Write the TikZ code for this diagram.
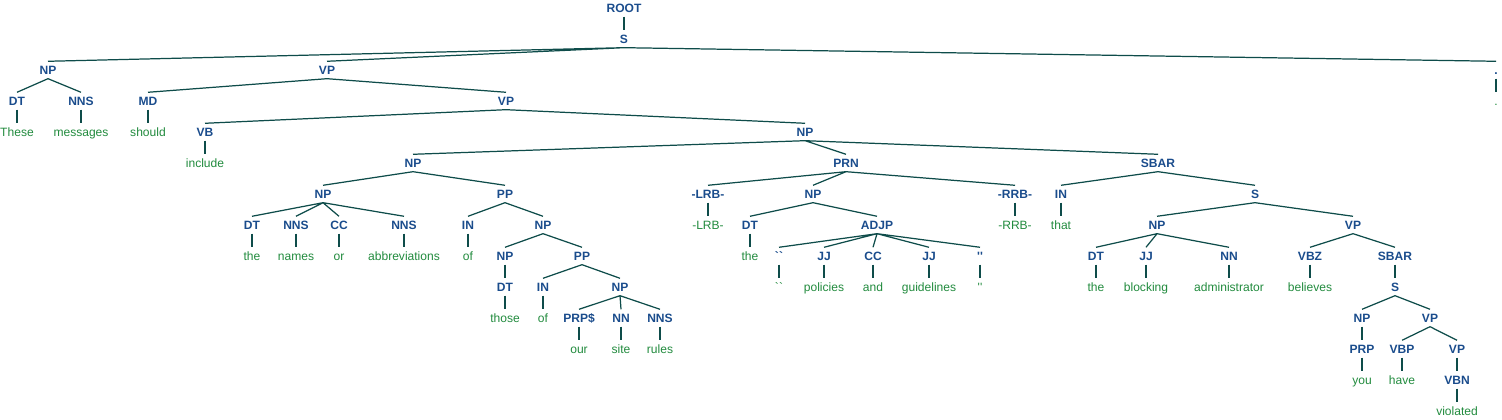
\documentclass[tikz,border=0pt]{standalone}
\usepackage{fontspec}
\usepackage{tikz}
\newfontfamily\treefont{Liberation Sans}
\definecolor{tagblue}{RGB}{26,76,140}
\definecolor{wordgreen}{RGB}{34,139,62}
\definecolor{branchteal}{RGB}{14,76,74}
\tikzset{
  tag/.style={font=\treefont\bfseries\fontsize{3.43}{4}\selectfont, text=tagblue,
    inner xsep=0pt, inner ysep=0.039cm, text height=0.082cm, text depth=0pt},
  word/.style={font=\treefont\fontsize{3.43}{4}\selectfont, text=wordgreen,
    inner xsep=0pt, inner ysep=0.039cm, text height=0.082cm, text depth=0pt},
  branch/.style={draw=branchteal, line width=0.35pt}
}
\begin{document}
\begin{tikzpicture}
        \useasboundingbox (0.00,0.00) rectangle (15.02,-4.20);

        % top
        \node[tag] (root) at (6.24,-0.08) {ROOT};
        \node[tag] (s1) at (6.24,-0.39) {S};
        \node[tag] (np1) at (0.48,-0.70) {NP};
        \node[tag] (vp1) at (3.27,-0.70) {VP};
        \node[tag] (pnt) at (14.96,-0.70) {.};
        \node[word] (pntw) at (14.96,-1.01) {.};

        % subject and modal
        \node[tag] (dt1) at (0.17,-1.01) {DT};
        \node[tag] (nns1) at (0.81,-1.01) {NNS};
        \node[tag] (md) at (1.48,-1.01) {MD};
        \node[tag] (vp2) at (5.06,-1.01) {VP};
        \node[word] (these) at (0.17,-1.32) {These};
        \node[word] (messages) at (0.81,-1.32) {messages};
        \node[word] (should) at (1.48,-1.32) {should};
        \node[tag] (vb) at (2.05,-1.32) {VB};
        \node[tag] (np2) at (8.05,-1.32) {NP};
        \node[word] (include) at (2.05,-1.63) {include};
        \node[tag] (np3) at (4.13,-1.63) {NP};
        \node[tag] (prn) at (8.46,-1.63) {PRN};
        \node[tag] (sbar1) at (11.58,-1.63) {SBAR};

        % level six
        \node[tag] (np4) at (3.23,-1.94) {NP};
        \node[tag] (pp1) at (5.05,-1.94) {PP};
        \node[tag] (lrb) at (7.08,-1.94) {-LRB-};
        \node[tag] (np5) at (8.13,-1.94) {NP};
        \node[tag] (rrb) at (10.15,-1.94) {-RRB-};
        \node[tag] (in1) at (10.61,-1.94) {IN};
        \node[tag] (s2) at (12.55,-1.94) {S};

        % level seven
        \node[tag] (dt2) at (2.52,-2.25) {DT};
        \node[tag] (nns2) at (2.96,-2.25) {NNS};
        \node[tag] (cc1) at (3.39,-2.25) {CC};
        \node[tag] (nns3) at (4.04,-2.25) {NNS};
        \node[tag] (in2) at (4.68,-2.25) {IN};
        \node[tag] (np6) at (5.43,-2.25) {NP};
        \node[word] (lrbw) at (7.08,-2.25) {-LRB-};
        \node[tag] (dt3) at (7.50,-2.25) {DT};
        \node[tag] (adjp) at (8.77,-2.25) {ADJP};
        \node[word] (rrbw) at (10.15,-2.25) {-RRB-};
        \node[word] (that) at (10.61,-2.25) {that};
        \node[tag] (np7) at (11.57,-2.25) {NP};
        \node[tag] (vp3) at (13.53,-2.25) {VP};

        % level eight
        \node[word] (the1) at (2.52,-2.56) {the};
        \node[word] (names) at (2.96,-2.56) {names};
        \node[word] (or) at (3.39,-2.56) {or};
        \node[word] (abbrev) at (4.04,-2.56) {abbreviations};
        \node[word] (of1) at (4.68,-2.56) {of};
        \node[tag] (np8) at (5.05,-2.56) {NP};
        \node[tag] (pp2) at (5.82,-2.56) {PP};
        \node[word] (the2) at (7.50,-2.56) {the};
        \node[tag] (lq) at (7.79,-2.56) {``};
        \node[tag] (jj1) at (8.24,-2.56) {JJ};
        \node[tag] (cc2) at (8.73,-2.56) {CC};
        \node[tag] (jj2) at (9.29,-2.56) {JJ};
        \node[tag] (rq) at (9.80,-2.56) {''};
        \node[tag] (dt4) at (10.96,-2.56) {DT};
        \node[tag] (jj3) at (11.46,-2.56) {JJ};
        \node[tag] (nn1) at (12.29,-2.56) {NN};
        \node[tag] (vbz) at (13.10,-2.56) {VBZ};
        \node[tag] (sbar2) at (13.95,-2.56) {SBAR};

        % level nine
        \node[tag] (dt5) at (5.05,-2.87) {DT};
        \node[tag] (in3) at (5.43,-2.87) {IN};
        \node[tag] (np9) at (6.20,-2.87) {NP};
        \node[word] (lqw) at (7.79,-2.87) {``};
        \node[word] (policies) at (8.24,-2.87) {policies};
        \node[word] (and) at (8.73,-2.87) {and};
        \node[word] (guidelines) at (9.29,-2.87) {guidelines};
        \node[word] (rqw) at (9.80,-2.87) {''};
        \node[word] (the3) at (10.96,-2.87) {the};
        \node[word] (blocking) at (11.46,-2.87) {blocking};
        \node[word] (admin) at (12.29,-2.87) {administrator};
        \node[word] (believes) at (13.10,-2.87) {believes};
        \node[tag] (s3) at (13.95,-2.87) {S};

        % lower levels
        \node[word] (those) at (5.05,-3.18) {those};
        \node[word] (of2) at (5.43,-3.18) {of};
        \node[tag] (prps) at (5.79,-3.18) {PRP\$};
        \node[tag] (nn2) at (6.21,-3.18) {NN};
        \node[tag] (nns4) at (6.60,-3.18) {NNS};
        \node[tag] (np10) at (13.62,-3.18) {NP};
        \node[tag] (vp4) at (14.30,-3.18) {VP};
        \node[word] (our) at (5.79,-3.49) {our};
        \node[word] (site) at (6.21,-3.49) {site};
        \node[word] (rules) at (6.60,-3.49) {rules};
        \node[tag] (prp) at (13.62,-3.49) {PRP};
        \node[tag] (vbp) at (14.02,-3.49) {VBP};
        \node[tag] (vp5) at (14.57,-3.49) {VP};
        \node[word] (you) at (13.62,-3.80) {you};
        \node[word] (have) at (14.02,-3.80) {have};
        \node[tag] (vbn) at (14.57,-3.80) {VBN};
        \node[word] (violated) at (14.57,-4.11) {violated};

        % branches
        \draw[branch] (root.south) -- (s1.north);
        \draw[branch] (s1.south) -- (np1.north) (s1.south) -- (vp1.north) (s1.south) -- (pnt.north);
        \draw[branch] (pnt.south) -- (pntw.north);
        \draw[branch] (np1.south) -- (dt1.north) (np1.south) -- (nns1.north);
        \draw[branch] (dt1.south) -- (these.north);
        \draw[branch] (nns1.south) -- (messages.north);
        \draw[branch] (vp1.south) -- (md.north) (vp1.south) -- (vp2.north);
        \draw[branch] (md.south) -- (should.north);
        \draw[branch] (vp2.south) -- (vb.north) (vp2.south) -- (np2.north);
        \draw[branch] (vb.south) -- (include.north);
        \draw[branch] (np2.south) -- (np3.north) (np2.south) -- (prn.north) (np2.south) -- (sbar1.north);
        \draw[branch] (np3.south) -- (np4.north) (np3.south) -- (pp1.north);
        \draw[branch] (np4.south) -- (dt2.north) (np4.south) -- (nns2.north) (np4.south) -- (cc1.north) (np4.south) -- (nns3.north);
        \draw[branch] (dt2.south) -- (the1.north);
        \draw[branch] (nns2.south) -- (names.north);
        \draw[branch] (cc1.south) -- (or.north);
        \draw[branch] (nns3.south) -- (abbrev.north);
        \draw[branch] (pp1.south) -- (in2.north) (pp1.south) -- (np6.north);
        \draw[branch] (in2.south) -- (of1.north);
        \draw[branch] (np6.south) -- (np8.north) (np6.south) -- (pp2.north);
        \draw[branch] (np8.south) -- (dt5.north);
        \draw[branch] (dt5.south) -- (those.north);
        \draw[branch] (pp2.south) -- (in3.north) (pp2.south) -- (np9.north);
        \draw[branch] (in3.south) -- (of2.north);
        \draw[branch] (np9.south) -- (prps.north) (np9.south) -- (nn2.north) (np9.south) -- (nns4.north);
        \draw[branch] (prps.south) -- (our.north);
        \draw[branch] (nn2.south) -- (site.north);
        \draw[branch] (nns4.south) -- (rules.north);
        \draw[branch] (prn.south) -- (lrb.north) (prn.south) -- (np5.north) (prn.south) -- (rrb.north);
        \draw[branch] (lrb.south) -- (lrbw.north);
        \draw[branch] (rrb.south) -- (rrbw.north);
        \draw[branch] (np5.south) -- (dt3.north) (np5.south) -- (adjp.north);
        \draw[branch] (dt3.south) -- (the2.north);
        \draw[branch] (adjp.south) -- (lq.north) (adjp.south) -- (jj1.north) (adjp.south) -- (cc2.north) (adjp.south) -- (jj2.north) (adjp.south) -- (rq.north);
        \draw[branch] (lq.south) -- (lqw.north);
        \draw[branch] (jj1.south) -- (policies.north);
        \draw[branch] (cc2.south) -- (and.north);
        \draw[branch] (jj2.south) -- (guidelines.north);
        \draw[branch] (rq.south) -- (rqw.north);
        \draw[branch] (sbar1.south) -- (in1.north) (sbar1.south) -- (s2.north);
        \draw[branch] (in1.south) -- (that.north);
        \draw[branch] (s2.south) -- (np7.north) (s2.south) -- (vp3.north);
        \draw[branch] (np7.south) -- (dt4.north) (np7.south) -- (jj3.north) (np7.south) -- (nn1.north);
        \draw[branch] (dt4.south) -- (the3.north);
        \draw[branch] (jj3.south) -- (blocking.north);
        \draw[branch] (nn1.south) -- (admin.north);
        \draw[branch] (vp3.south) -- (vbz.north) (vp3.south) -- (sbar2.north);
        \draw[branch] (vbz.south) -- (believes.north);
        \draw[branch] (sbar2.south) -- (s3.north);
        \draw[branch] (s3.south) -- (np10.north) (s3.south) -- (vp4.north);
        \draw[branch] (np10.south) -- (prp.north);
        \draw[branch] (prp.south) -- (you.north);
        \draw[branch] (vp4.south) -- (vbp.north) (vp4.south) -- (vp5.north);
        \draw[branch] (vbp.south) -- (have.north);
        \draw[branch] (vp5.south) -- (vbn.north);
        \draw[branch] (vbn.south) -- (violated.north);
    \end{tikzpicture}
\end{document}
